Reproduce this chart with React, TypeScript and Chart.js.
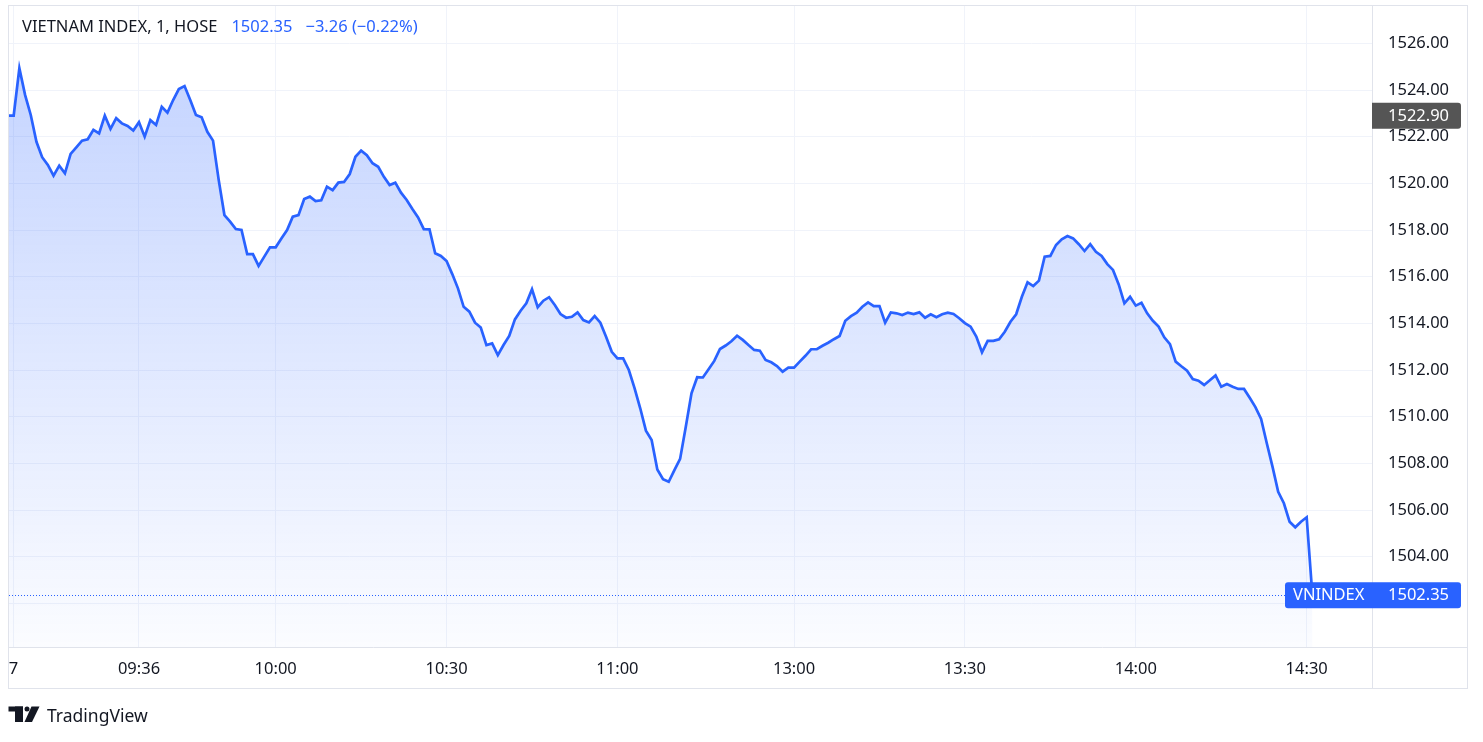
import React, { useEffect, useRef } from 'react';
import { Chart, registerables } from 'chart.js';

Chart.register(...registerables);

// bar index of the first minute bar (09:15 = 0; 10:00 = 45; 13:00 = 136)
const FIRST_BAR = -2;

// VN-Index 1-minute closes
const closeValues = [
  1522.90, 1522.90, 1524.93, 1523.79, 1522.93, 1521.78, 1521.12, 1520.79, 1520.33, 1520.76,
  1520.43, 1521.26, 1521.54, 1521.83, 1521.89, 1522.29, 1522.14, 1522.90, 1522.33, 1522.79,
  1522.57, 1522.46, 1522.26, 1522.62, 1522.00, 1522.71, 1522.50, 1523.28, 1523.03, 1523.57,
  1524.04, 1524.17, 1523.57, 1522.93, 1522.83, 1522.21, 1521.83, 1520.14, 1518.64, 1518.36,
  1518.04, 1518.00, 1516.97, 1516.97, 1516.46, 1516.86, 1517.26, 1517.26, 1517.64, 1518.00,
  1518.57, 1518.64, 1519.33, 1519.43, 1519.24, 1519.27, 1519.86, 1519.71, 1520.03, 1520.06,
  1520.40, 1521.14, 1521.40, 1521.21, 1520.86, 1520.71, 1520.28, 1519.93, 1520.03, 1519.60,
  1519.29, 1518.90, 1518.54, 1518.04, 1518.03, 1517.00, 1516.89, 1516.67, 1516.11, 1515.50,
  1514.71, 1514.50, 1514.03, 1513.82, 1513.07, 1513.14, 1512.64, 1513.07, 1513.46, 1514.17,
  1514.54, 1514.86, 1515.46, 1514.69, 1514.97, 1515.12, 1514.79, 1514.40, 1514.24, 1514.28,
  1514.47, 1514.14, 1514.04, 1514.31, 1514.03, 1513.43, 1512.78, 1512.50, 1512.50, 1512.00,
  1511.22, 1510.36, 1509.40, 1509.00, 1507.74, 1507.32, 1507.21, 1507.71, 1508.19, 1509.57,
  1511.00, 1511.69, 1511.68, 1512.03, 1512.39, 1512.90, 1513.05, 1513.23, 1513.47, 1513.29,
  1513.07, 1512.86, 1512.83, 1512.43, 1512.33, 1512.17, 1511.93, 1512.10, 1512.10, 1512.36,
  1512.61, 1512.89, 1512.89, 1513.04, 1513.17, 1513.32, 1513.46, 1514.11, 1514.31, 1514.46,
  1514.71, 1514.90, 1514.74, 1514.74, 1514.03, 1514.47, 1514.43, 1514.36, 1514.46, 1514.40,
  1514.47, 1514.24, 1514.39, 1514.26, 1514.39, 1514.46, 1514.40, 1514.22, 1514.01, 1513.86,
  1513.43, 1512.76, 1513.25, 1513.25, 1513.32, 1513.64, 1514.07, 1514.39, 1515.14, 1515.76,
  1515.60, 1515.83, 1516.86, 1516.89, 1517.36, 1517.60, 1517.74, 1517.64, 1517.39, 1517.10,
  1517.39, 1517.07, 1516.89, 1516.54, 1516.29, 1515.67, 1514.86, 1515.14, 1514.76, 1514.88,
  1514.43, 1514.11, 1513.86, 1513.40, 1513.11, 1512.36, 1512.16, 1511.97, 1511.61, 1511.54,
  1511.36, 1511.56, 1511.77, 1511.28, 1511.40, 1511.28, 1511.19, 1511.19, 1510.81, 1510.41,
  1509.90, 1508.86, 1507.86, 1506.78, 1506.29, 1505.50, 1505.26, 1505.50, 1505.69, 1502.35,
];

const timeTickBars = [-1, 21, 45, 75, 105, 136, 166, 196, 226];
const timeTickLabels = ['17', '09:36', '10:00', '10:30', '11:00', '13:00', '13:30', '14:00', '14:30'];
const priceTicks = [1502, 1504, 1506, 1508, 1510, 1512, 1514, 1516, 1518, 1520, 1522, 1524, 1526];

const SYMBOL_TITLE = 'VIETNAM INDEX, 1, HOSE';
const SYMBOL_SHORT = 'VNINDEX';
const lastPrice = 1502.35;
const changeText = '\u22123.26 (\u22120.22%)';
const markerPrice = 1522.9;

const X_MIN = -1.82;
const X_MAX = 237.47;
const Y_MIN = 1500.13;
const Y_MAX = 1527.6;

const FONT = "'Noto Sans', 'DejaVu Sans', sans-serif";
const FS = 16.5;
const TEXT = '#131722';
const BLUE = '#2962ff';
const GRID = '#f0f3fa';
const FRAME = '#e0e3eb';

const zeroPad = (s: any) => {
  s.paddingTop = 0;
  s.paddingBottom = 0;
  s.paddingLeft = 0;
  s.paddingRight = 0;
};

const overlayPlugin = {
  id: 'tvOverlay',
  afterDraw(chart: any) {
    const { ctx, chartArea, scales } = chart;
    const ys = scales.y;
    const xs = scales.x;
    ctx.save();

    // frame lines
    ctx.strokeStyle = FRAME;
    ctx.lineWidth = 1;
    ctx.strokeRect(8.5, 5.5, 1459, 683);
    ctx.beginPath();
    ctx.moveTo(chartArea.right + 0.5, 5.5);
    ctx.lineTo(chartArea.right + 0.5, 688.5);
    ctx.moveTo(8.5, chartArea.bottom + 0.5);
    ctx.lineTo(1467.5, chartArea.bottom + 0.5);
    ctx.stroke();

    // header
    ctx.font = `${FS}px ${FONT}`;
    ctx.textBaseline = 'middle';
    ctx.textAlign = 'left';
    ctx.fillStyle = TEXT;
    let hx = 22;
    const hy = 27.5;
    ctx.fillText(SYMBOL_TITLE, hx, hy);
    hx += ctx.measureText(SYMBOL_TITLE).width + 14;
    ctx.fillStyle = BLUE;
    const lp = lastPrice.toFixed(2);
    ctx.fillText(lp, hx, hy);
    hx += ctx.measureText(lp).width + 13;
    ctx.fillText(changeText, hx, hy);

    // dotted last-price line
    const ly = Math.round(ys.getPixelForValue(lastPrice)) + 0.5;
    ctx.strokeStyle = BLUE;
    ctx.setLineDash([1, 2]);
    ctx.beginPath();
    ctx.moveTo(chartArea.left, ly);
    ctx.lineTo(1285, ly);
    ctx.stroke();
    ctx.setLineDash([]);

    // marker price label (grey)
    const my = ys.getPixelForValue(markerPrice);
    ctx.fillStyle = '#555555';
    ctx.beginPath();
    ctx.roundRect(chartArea.right, my - 13, 89, 26, [0, 3, 3, 0]);
    ctx.fill();
    ctx.fillStyle = '#ffffff';
    ctx.fillText(markerPrice.toFixed(2), chartArea.right + 16, my + 0.5);

    // last price label (blue)
    const by = ys.getPixelForValue(lastPrice);
    ctx.fillStyle = BLUE;
    ctx.beginPath();
    ctx.roundRect(1285, by - 13, 176, 26, 3);
    ctx.fill();
    ctx.fillStyle = '#ffffff';
    ctx.fillText(SYMBOL_SHORT, 1293, by + 0.5);
    ctx.fillText(lp, chartArea.right + 16, by + 0.5);

    // clipped day label at the left edge
    const fx = xs.getPixelForValue(timeTickBars[0]);
    ctx.save();
    ctx.beginPath();
    ctx.rect(9, chartArea.bottom + 1, 200, 40);
    ctx.clip();
    ctx.fillStyle = TEXT;
    ctx.textAlign = 'right';
    ctx.fillText(timeTickLabels[0], fx + 4.5, chartArea.bottom + 22);
    ctx.restore();

    // TradingView logo
    ctx.fillStyle = TEXT;
    ctx.fillRect(8.5, 706.5, 14.5, 5);
    ctx.fillRect(15, 706.5, 8, 15.5);
    ctx.beginPath();
    ctx.arc(27, 709, 2.5, 0, Math.PI * 2);
    ctx.fill();
    ctx.beginPath();
    ctx.moveTo(31.5, 706.5);
    ctx.lineTo(39.5, 706.5);
    ctx.lineTo(32, 722);
    ctx.lineTo(24.5, 722);
    ctx.closePath();
    ctx.fill();
    ctx.font = `17.5px ${FONT}`;
    ctx.textAlign = 'left';
    ctx.textBaseline = 'alphabetic';
    ctx.fillText('TradingView', 47, 722);

    ctx.restore();
  },
};

export default function App() {
  const canvasRef = useRef<HTMLCanvasElement | null>(null);

  useEffect(() => {
    if (!canvasRef.current) return;
    const points = closeValues.map((v, i) => ({ x: FIRST_BAR + i, y: v }));
    const maxVal = Math.max(...closeValues);

    const chart = new Chart(canvasRef.current, {
      type: 'line',
      data: {
        datasets: [
          {
            label: SYMBOL_SHORT,
            data: points,
            borderColor: BLUE,
            borderWidth: 2.7,
            pointRadius: 0,
            tension: 0,
            fill: 'start',
            backgroundColor: (context: any) => {
              const c = context.chart;
              const { ctx, chartArea, scales } = c;
              if (!chartArea || !scales.y) return 'rgba(41,98,255,0.15)';
              const top = scales.y.getPixelForValue(maxVal);
              const g = ctx.createLinearGradient(0, top, 0, chartArea.bottom);
              g.addColorStop(0, 'rgba(41,98,255,0.27)');
              g.addColorStop(1, 'rgba(41,98,255,0.02)');
              return g;
            },
          },
        ],
      },
      options: {
        responsive: false,
        maintainAspectRatio: false,
        animation: false,
        layout: { padding: { left: 9, top: 6, right: 15, bottom: 53 } },
        plugins: {
          legend: { display: false },
          tooltip: { enabled: false },
        },
        scales: {
          x: {
            type: 'linear',
            min: X_MIN,
            max: X_MAX,
            afterBuildTicks: (s: any) => {
              s.ticks = timeTickBars.map((v) => ({ value: v }));
            },
            afterFit: (s: any) => {
              s.height = 42;
              zeroPad(s);
            },
            ticks: {
              autoSkip: false,
              maxRotation: 0,
              padding: 12,
              color: TEXT,
              font: { family: FONT, size: FS },
              callback: (v: any) => {
                const i = timeTickBars.indexOf(Number(v));
                return i > 0 ? timeTickLabels[i] : '';
              },
            },
            grid: { color: GRID, drawTicks: false },
            border: { display: false },
          },
          y: {
            type: 'linear',
            position: 'right',
            min: Y_MIN,
            max: Y_MAX,
            afterBuildTicks: (s: any) => {
              s.ticks = priceTicks.map((v) => ({ value: v }));
            },
            afterFit: (s: any) => {
              s.width = 96;
              zeroPad(s);
            },
            ticks: {
              padding: 16,
              color: TEXT,
              font: { family: FONT, size: FS },
              callback: (v: any) => Number(v).toFixed(2),
            },
            grid: { color: GRID, drawTicks: false },
            border: { display: false },
          },
        },
      },
      plugins: [overlayPlugin],
    });
    return () => chart.destroy();
  }, []);

  return (
    <div style={{ position: 'fixed', left: 0, top: 0, width: 1483, height: 742, background: '#ffffff' }}>
      <canvas ref={canvasRef} width={1483} height={742} style={{ display: 'block' }} />
    </div>
  );
}
